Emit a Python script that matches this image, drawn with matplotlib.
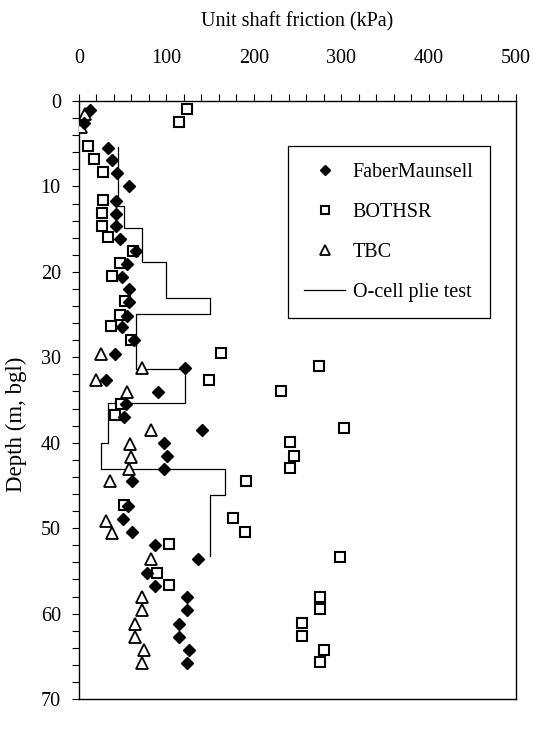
import matplotlib
matplotlib.use("Agg")
import matplotlib.pyplot as plt
import numpy as np
from matplotlib.ticker import MultipleLocator

plt.rcParams["font.family"] = ["Liberation Serif", "DejaVu Serif"]

# FaberMaunsell design values: unit shaft friction (kPa) against depth (m)
faber_friction = [13, 6, 33, 38.4, 43.4, 57.8, 42.6, 42.6, 42.6, 46.5, 65.5, 55, 49.2,
                  57, 57, 55, 49.2, 62.8, 41.5, 121, 31, 90, 54.3, 51.2, 140.3, 96.9,
                  100.4, 96.9, 60.9, 55.8, 50.4, 60.9, 86.8, 136.4, 78.3, 86.8, 124,
                  124, 114, 114, 126, 124]
faber_depth = [1.0, 2.6, 5.45, 6.9, 8.4, 10.0, 11.7, 13.2, 14.6, 16.1, 17.5, 19.1, 20.6,
               22.0, 23.5, 25.2, 26.5, 28.0, 29.6, 31.3, 32.7, 34.1, 35.5, 37.0, 38.5,
               40.0, 41.6, 43.1, 44.5, 47.4, 48.9, 50.5, 52.0, 53.6, 55.2, 56.8, 58.1,
               59.6, 61.2, 62.75, 64.3, 65.8]

# BOTHSR values
bothsr_friction = [124, 114, 10.5, 17.4, 27.1, 27.1, 26.7, 26.7, 33.7, 62, 47.3, 37.6,
                   53, 47.3, 36.4, 60, 162.8, 275, 148.8, 231.4, 48, 41.5, 303, 241,
                   245.7, 241, 190.7, 52, 176.4, 190, 102.7, 299, 89, 102.7, 276, 276,
                   255.8, 255.8, 280, 276]
bothsr_depth = [0.93, 2.5, 5.3, 6.8, 8.3, 11.6, 13.1, 14.6, 15.9, 17.5, 19.0, 20.5,
                23.4, 25.0, 26.3, 28.0, 29.5, 31.0, 32.6, 34.0, 35.5, 36.8, 38.3, 39.9,
                41.5, 43.0, 44.5, 47.3, 48.8, 50.4, 51.9, 53.4, 55.2, 56.6, 58.0, 59.5,
                61.1, 62.6, 64.2, 65.7]

# TBC values
tbc_friction = [7, 2, 24.8, 72.5, 19.4, 55, 82.2, 58.1, 60.1, 57.8, 35.7, 31, 37.6,
                82.2, 72.5, 72.5, 64.7, 64.7, 74.4, 72.5]
tbc_depth = [1.5, 3.0, 29.6, 31.3, 32.7, 34.1, 38.5, 40.1, 41.7, 43.1, 44.5, 49.1, 50.6,
             53.6, 58.1, 59.6, 61.2, 62.75, 64.3, 65.8]

# O-cell pile test: friction per layer, layer boundaries in depth
ocell_bounds = [5.4, 12.3, 14.9, 18.9, 23.1, 24.9, 31.4, 35.4, 40.0, 43.1, 46.1, 53.2]
ocell_friction = [45, 52, 72, 100, 150, 65, 121, 33, 25, 167, 150]

fig = plt.figure(figsize=(5.33, 7.32), dpi=100)
ax = fig.add_axes([0.148, 0.045, 0.820, 0.817])

step_x = np.repeat(ocell_friction, 2)
step_y = np.column_stack([ocell_bounds[:-1], ocell_bounds[1:]]).ravel()

ax.plot(faber_friction, faber_depth, linestyle="none", marker="D", ms=6.4,
        color="black", label="FaberMaunsell", zorder=4)
ax.plot(bothsr_friction, bothsr_depth, linestyle="none", marker="s", ms=7,
        mfc="white", mec="black", mew=1.5, label="BOTHSR", zorder=3)
ax.plot(tbc_friction, tbc_depth, linestyle="none", marker="^", ms=8.4,
        mfc="white", mec="black", mew=1.3, label="TBC", zorder=3)
ax.plot(step_x, step_y, color="black", lw=0.9, label="O-cell plie test", zorder=2)

ax.set_xlim(0, 500)
ax.set_ylim(70, 0)
ax.xaxis.set_major_locator(MultipleLocator(100))
ax.xaxis.set_minor_locator(MultipleLocator(20))
ax.yaxis.set_major_locator(MultipleLocator(10))
ax.yaxis.set_minor_locator(MultipleLocator(2))
ax.xaxis.tick_top()
ax.xaxis.set_label_position("top")
ax.tick_params(axis="x", which="both", direction="out", length=5, width=0.8,
               labelsize=14.5, pad=19)
ax.tick_params(axis="y", which="both", direction="out", length=5, width=0.8,
               labelsize=14.5, pad=8)
for side in ax.spines.values():
    side.set_linewidth(1.0)

fig.canvas.draw()
ax.get_xticklabels()[-1].set_horizontalalignment("right")

ax.set_xlabel("Unit shaft friction (kPa)", fontsize=14.5, labelpad=16)
ax.set_ylabel("Depth (m, bgl)", fontsize=16.5)
ax.yaxis.set_label_coords(-0.118, 0.46)

leg = ax.legend(loc="upper right", bbox_to_anchor=(0.963, 0.941), fontsize=14.5,
                frameon=True, fancybox=False, edgecolor="black", framealpha=1,
                labelspacing=1.05, handlelength=2.0, handletextpad=0.4,
                borderpad=0.8, markerscale=0.8)
leg.get_frame().set_linewidth(0.9)

fig.savefig("out.png", dpi=100)
